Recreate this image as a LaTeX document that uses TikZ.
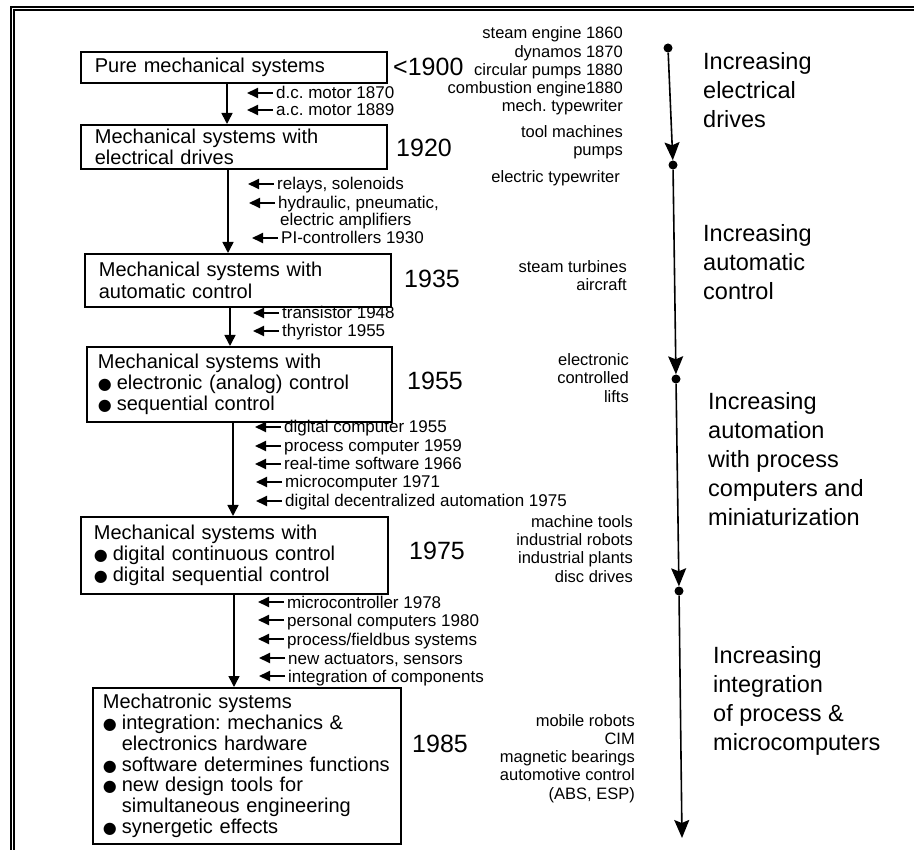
\documentclass[tikz,border=0pt]{standalone}
\usepackage{fontspec}
\setmainfont{Liberation Sans}
\newfontfamily\symfont{DejaVu Sans}
\usetikzlibrary{arrows.meta}
\frenchspacing
% bullet item and hanging indent for the box texts
\newcommand\blt{\makebox[19pt][l]{\symfont\fontsize{16}{16}\selectfont ●}}
\newcommand\hng{\hspace*{19pt}}
\tikzset{
  sysbox/.style={draw, line width=1.7pt, anchor=north west, inner xsep=11pt,
    inner ysep=0pt, align=left, font=\fontsize{20}{21.3}\selectfont},
  flow/.style={line width=1.6pt, -{Triangle[length=11pt,width=11pt]}},
  note/.style={anchor=west, inner sep=0pt, text height=12pt, text depth=0pt,
    font=\fontsize{17}{18}\selectfont},
  notearrow/.style={line width=1.8pt, -{Triangle[length=11pt,width=10pt]}},
  year/.style={anchor=west, inner sep=0pt, text height=18pt, text depth=0pt,
    font=\fontsize{25}{25}\selectfont},
  app/.style={anchor=east, align=right, inner sep=0pt, font=\fontsize{16.5}{18.2}\selectfont},
  trend/.style={anchor=west, align=left, inner sep=0pt, font=\fontsize{23.5}{29}\selectfont},
  tdot/.style={circle, fill, minimum size=9pt, inner sep=0pt},
  tarrow/.style={line width=1.6pt, -{Stealth[length=18pt,width=15pt,inset=3pt]}}
}
\begin{document}
\begin{tikzpicture}[x=1pt,y=-1pt]
\useasboundingbox (0,0) rectangle (914,850);

% double frame
\draw[line width=2pt] (11.2,850) -- (11.2,6.7) -- (914,6.7);
\draw[line width=2pt] (14.3,850) -- (14.3,9.8) -- (914,9.8);

% development stages
\node[sysbox, minimum width=306pt, minimum height=31pt, text width=284pt] (b1) at (80,51)
  {\hspace*{3pt}Pure mechanical systems};
\node[sysbox, minimum width=306pt, minimum height=44pt, text width=284pt] (b2) at (80,124)
  {\hspace*{3pt}Mechanical systems with\\\hspace*{3pt}electrical drives};
\node[sysbox, minimum width=306pt, minimum height=53pt, text width=284pt] (b3) at (84,253)
  {\hspace*{3pt}Mechanical systems with\\\hspace*{3pt}automatic control};
\node[sysbox, minimum width=305pt, minimum height=75pt, text width=283pt] (b4) at (86,346)
  {Mechanical systems with\\\blt electronic (analog) control\\\blt sequential control};
\node[sysbox, minimum width=307pt, minimum height=77pt, text width=285pt] (b5) at (80,516)
  {\hspace*{2pt}Mechanical systems with\\\hspace*{2pt}\blt digital continuous control\\\hspace*{2pt}\blt digital sequential control};
\node[sysbox, minimum width=308pt, minimum height=156pt, text width=288pt, inner xsep=10pt,
  font=\fontsize{20}{20.8}\selectfont] (b6) at (92,687)
  {Mechatronic systems\\\blt integration: mechanics \&\\\hng electronics hardware\\
   \blt software determines functions\\\blt new design tools for\\
   \hng simultaneous engineering\\\blt synergetic effects};

% flow between stages
\coordinate (a1) at (227,0);
\coordinate (a2) at (228,0);
\coordinate (a3) at (230,0);
\coordinate (a4) at (233,0);
\coordinate (a5) at (234,0);
\draw[flow] (b1.south -| a1) -- (b2.north -| a1);
\draw[flow] (b2.south -| a2) -- (b3.north -| a2);
\draw[flow] (b3.south -| a3) -- (b4.north -| a3);
\draw[flow] (b4.south -| a4) -- (b5.north -| a4);
\draw[flow] (b5.south -| a5) -- (b6.north -| a5);

% years
\node[year] (y1) at (393,67) {<1900};
\node[year] (y2) at (396,148) {1920};
\node[year] (y3) at (404,279) {1935};
\node[year] (y4) at (407,381) {1955};
\node[year] (y5) at (409,550) {1975};
\node[year] (y6) at (412,743) {1985};

% enabling technologies
\foreach \nm/\x/\y/\txt in {
  n1/276/93/{d.c. motor 1870},
  n2/276/110/{a.c. motor 1889},
  n3/277/184/{relays, solenoids},
  n4/278/203/{hydraulic, pneumatic,},
  n5/281/238/{PI-controllers 1930},
  n6/282/313/{transistor 1948},
  n7/282/331/{thyristor 1955},
  n8/284/427/{digital computer 1955},
  n9/284/446/{process computer 1959},
  n10/284/464/{real-time software 1966},
  n11/285/482/{microcomputer 1971},
  n12/285/501/{digital decentralized automation 1975},
  n13/287/602/{microcontroller 1978},
  n14/287/620/{personal computers 1980},
  n15/287/639/{process/fieldbus systems},
  n16/288/658/{new actuators, sensors},
  n17/288/676/{integration of components}}
{
  \node[note] (\nm) at (\x,\y) {\txt};
  \draw[notearrow] ([xshift=-3pt]\nm.west) -- ([xshift=-29pt]\nm.west);
}
\node[note] (n4b) at (280,220) {electric amplifiers};

% applications
\node[app] (p1) at (623,71) {steam engine 1860\\dynamos 1870\\circular pumps 1880\\combustion engine1880\\mech. typewriter};
\node[app] (p2) at (623,142.5) {tool machines\\pumps};
\node[app] (p3) at (620,178) {electric typewriter};
\node[app] (p4) at (627,275.5) {steam turbines\\aircraft};
\node[app] (p5) at (629,378) {electronic\\controlled\\lifts};
\node[app] (p6) at (633,549) {machine tools\\industrial robots\\industrial plants\\disc drives};
\node[app] (p7) at (635,758.5) {mobile robots\\CIM\\magnetic bearings\\automotive control\\(ABS, ESP)};

% trend time line
\node[tdot] (t0) at (668,48) {};
\node[tdot] (t1) at (673,165) {};
\node[tdot] (t2) at (676,379) {};
\node[tdot] (t3) at (679,591) {};
\coordinate (t4) at (682,838);
\draw[tarrow] (t0) -- (t1);
\draw[tarrow] (t1) -- (t2);
\draw[tarrow] (t2) -- (t3);
\draw[tarrow] (t3) -- (t4);

\node[trend] (r1) at (703,90) {Increasing\\electrical\\drives};
\node[trend] (r2) at (703,262) {Increasing\\automatic\\control};
\node[trend] (r3) at (708,459) {Increasing\\automation\\with process\\computers and\\miniaturization};
\node[trend] (r4) at (713,701) {Increasing\\integration\\of process \&\\microcomputers};
\end{tikzpicture}
\end{document}
